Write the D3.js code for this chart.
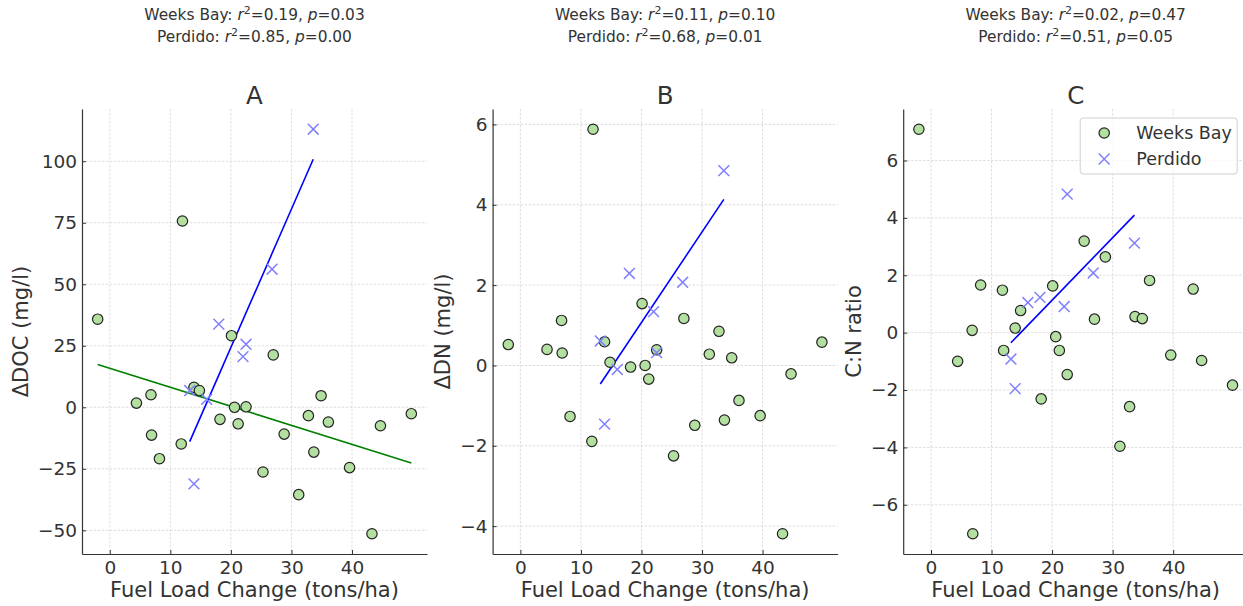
<!DOCTYPE html>
<html>
<head>
<meta charset="utf-8">
<script src="https://cdn.jsdelivr.net/npm/d3@7"></script>
<style>
  body { margin: 0; background: #fff; }
  svg { font-family: "DejaVu Sans", sans-serif; }
</style>
</head>
<body>
<div id="chart"></div>
<script>
// Weeks Bay sites (shared fuel load change across panels)
const weeksX = [-2.0, 4.4, 6.8, 6.9, 8.2, 11.8, 12.0, 13.9, 14.8, 18.2, 20.1, 20.6, 21.2,
                22.5, 25.3, 27.0, 28.8, 31.2, 32.8, 33.7, 34.9, 36.1, 39.6, 43.3, 44.7, 49.8];
const docWeeks = [35.8, 1.7, 5.1, -11.3, -20.9, -14.9, 75.7, 8.1, 6.8, -4.9, 29.1, 0.0, -6.7,
                  0.2, -26.3, 21.3, -10.9, -35.5, -3.4, -18.2, 4.7, -6.0, -24.5, -51.4, -7.5, -2.6];
const dnWeeks = [0.52, 0.40, 1.12, 0.31, -1.27, -1.89, 5.88, 0.59, 0.08, -0.04, 1.54, 0.0, -0.34,
                 0.39, -2.25, 1.17, -1.49, 0.28, 0.85, -1.36, 0.19, -0.87, -1.25, -4.19, -0.21, 0.58];
const cnWeeks = [7.09, -1.0, 0.08, -7.01, 1.66, 1.48, -0.62, 0.16, 0.77, -2.31, 1.63, -0.14, -0.62,
                 -1.46, 3.19, 0.47, 2.64, -3.96, -2.58, 0.56, 0.49, 1.82, -0.78, 1.52, -0.97, -1.83];

// Perdido sites
const perdidoX = [13.2, 13.9, 16.0, 18.0, 22.0, 22.5, 26.8, 33.6];
const docPerdido = [6.8, -31.1, 3.25, 33.8, 20.6, 25.6, 56.1, 113.0];
const dnPerdido = [0.61, -1.46, -0.10, 2.29, 1.34, 0.32, 2.07, 4.85];
const cnPerdido = [-0.92, -1.95, 1.05, 1.23, 0.91, 4.83, 2.08, 3.12];

// labels and ticks
const panelTitles = ['A', 'B', 'C'];
const yLabels = ['ΔDOC (mg/l)', 'ΔDN (mg/l)', 'C:N ratio'];
const xLabel = 'Fuel Load Change (tons/ha)';
const xTicks = [0, 10, 20, 30, 40];
const docTicks = [-50, -25, 0, 25, 50, 75, 100];
const dnTicks = [-4, -2, 0, 2, 4, 6];
const cnTicks = [-6, -4, -2, 0, 2, 4, 6];
const weeksR2 = ['0.19', '0.11', '0.02'];
const weeksP = ['0.03', '0.10', '0.47'];
const perdidoR2 = ['0.85', '0.68', '0.51'];
const perdidoP = ['0.00', '0.01', '0.05'];
const showWeeksFit = [true, false, false];
const showPerdidoFit = [true, true, true];

const panels = [
  { weeks: docWeeks, perdido: docPerdido, ticks: docTicks },
  { weeks: dnWeeks, perdido: dnPerdido, ticks: dnTicks },
  { weeks: cnWeeks, perdido: cnPerdido, ticks: cnTicks }
];

const W = 1243, H = 606;
const plotW = 345, plotH = 445, plotTop = 109, left0 = 82, step = 410.6;
const textColor = '#333';
const greenFill = '#b3dfa1';

const svg = d3.select('#chart').append('svg')
  .attr('width', W).attr('height', H);

function padded(vals) {
  const [lo, hi] = d3.extent(vals);
  const p = (hi - lo) * 0.05;
  return [lo - p, hi + p];
}

function fit(xs, ys) {
  const mx = d3.mean(xs), my = d3.mean(ys);
  let sxy = 0, sxx = 0;
  xs.forEach((x, i) => { sxy += (x - mx) * (ys[i] - my); sxx += (x - mx) * (x - mx); });
  const b = sxy / sxx;
  return x => my + b * (x - mx);
}

const fmt = d => String(d).replace('-', '\u2212');

panels.forEach((pn, i) => {
  const left = left0 + i * step;
  const g = svg.append('g').attr('transform', `translate(${left},${plotTop})`);

  const x = d3.scaleLinear().domain(padded(weeksX.concat(perdidoX))).range([0, plotW]);
  const y = d3.scaleLinear().domain(padded(pn.weeks.concat(pn.perdido))).range([plotH, 0]);

  // grid
  g.append('g').selectAll('line').data(xTicks).enter().append('line')
    .attr('x1', d => x(d)).attr('x2', d => x(d)).attr('y1', 0).attr('y2', plotH)
    .attr('stroke', '#d4d4d4').attr('stroke-width', 0.8).attr('stroke-dasharray', '2.5,1.5');
  g.append('g').selectAll('line').data(pn.ticks).enter().append('line')
    .attr('y1', d => y(d)).attr('y2', d => y(d)).attr('x1', 0).attr('x2', plotW)
    .attr('stroke', '#d4d4d4').attr('stroke-width', 0.8).attr('stroke-dasharray', '2.5,1.5');

  // axes
  const xAxis = g.append('g').attr('transform', `translate(0,${plotH})`)
    .call(d3.axisBottom(x).tickValues(xTicks).tickSizeInner(-4).tickSizeOuter(0).tickPadding(7).tickFormat(fmt));
  const yAxis = g.append('g')
    .call(d3.axisLeft(y).tickValues(pn.ticks).tickSizeInner(-4).tickSizeOuter(0).tickPadding(5).tickFormat(fmt));
  [xAxis, yAxis].forEach(a => {
    a.select('.domain').attr('stroke', textColor).attr('stroke-width', 1.2);
    a.selectAll('.tick line').attr('stroke', textColor);
    a.selectAll('.tick text').attr('fill', textColor).style('font-size', '18.5px')
      .style('font-family', '"DejaVu Sans", sans-serif');
  });
  let maxW = 0;
  yAxis.selectAll('.tick text').each(function() { maxW = Math.max(maxW, this.getBBox().width); });

  // fit lines
  const line = d3.line().x(d => x(d[0])).y(d => y(d[1]));
  if (showWeeksFit[i]) {
    const f = fit(weeksX, pn.weeks);
    const ext = d3.extent(weeksX);
    g.append('path').datum(ext.map(v => [v, f(v)])).attr('d', line)
      .attr('stroke', '#008000').attr('stroke-width', 1.6).attr('fill', 'none');
  }
  if (showPerdidoFit[i]) {
    const f = fit(perdidoX, pn.perdido);
    const ext = d3.extent(perdidoX);
    g.append('path').datum(ext.map(v => [v, f(v)])).attr('d', line)
      .attr('stroke', '#0000ff').attr('stroke-width', 1.6).attr('fill', 'none');
  }

  // Weeks Bay circles
  g.append('g').selectAll('circle').data(weeksX).enter().append('circle')
    .attr('cx', d => x(d)).attr('cy', (d, k) => y(pn.weeks[k])).attr('r', 5.2)
    .attr('fill', greenFill).attr('stroke', '#222').attr('stroke-width', 1.2);

  // Perdido crosses
  const cross = d3.symbol().type(d3.symbolX).size(78);
  g.append('g').selectAll('path').data(perdidoX).enter().append('path')
    .attr('d', cross)
    .attr('transform', (d, k) => `translate(${x(d)},${y(pn.perdido[k])})`)
    .attr('fill', 'none').attr('stroke', '#8080ff').attr('stroke-width', 1.5);

  const cx = left + plotW / 2;

  // title
  svg.append('text').attr('x', cx).attr('y', plotTop - 5).attr('text-anchor', 'middle')
    .attr('fill', textColor).style('font-size', '24.5px').text(panelTitles[i]);

  // stats
  const statLine = (yy, name, r2, p) => {
    const t = svg.append('text').attr('x', cx).attr('y', yy).attr('text-anchor', 'middle')
      .attr('fill', textColor).style('font-size', '15.4px');
    t.append('tspan').text(name + ': ');
    t.append('tspan').style('font-style', 'italic').text('r');
    t.append('tspan').attr('dy', -6).style('font-size', '11px').text('2');
    t.append('tspan').attr('dy', 6).text('=' + r2 + ', ');
    t.append('tspan').style('font-style', 'italic').text('p');
    t.append('tspan').text('=' + p);
  };
  statLine(20, 'Weeks Bay', weeksR2[i], weeksP[i]);
  statLine(42, 'Perdido', perdidoR2[i], perdidoP[i]);

  // axis labels
  svg.append('text').attr('x', cx).attr('y', plotTop + plotH + 43).attr('text-anchor', 'middle')
    .attr('fill', textColor).style('font-size', '21px').text(xLabel);
  svg.append('text')
    .attr('transform', `translate(${left - maxW - 15},${plotTop + plotH / 2}) rotate(-90)`)
    .attr('text-anchor', 'middle').attr('fill', textColor).style('font-size', '21px')
    .text(yLabels[i]);

  // legend on last panel
  if (i === 2) {
    const lg = svg.append('g').attr('transform', `translate(${left + 177},${plotTop + 9})`);
    lg.append('rect').attr('width', 157).attr('height', 56).attr('rx', 3)
      .attr('fill', 'rgba(255,255,255,0.8)').attr('stroke', '#d0d0d0');
    lg.append('circle').attr('cx', 24).attr('cy', 15).attr('r', 5.2)
      .attr('fill', greenFill).attr('stroke', '#222').attr('stroke-width', 1.2);
    lg.append('path').attr('d', cross).attr('transform', 'translate(24,41)')
      .attr('fill', 'none').attr('stroke', '#8080ff').attr('stroke-width', 1.5);
    lg.append('text').attr('x', 56).attr('y', 21).attr('fill', textColor)
      .style('font-size', '17.5px').text('Weeks Bay');
    lg.append('text').attr('x', 56).attr('y', 47).attr('fill', textColor)
      .style('font-size', '17.5px').text('Perdido');
  }
});
</script>
</body>
</html>
